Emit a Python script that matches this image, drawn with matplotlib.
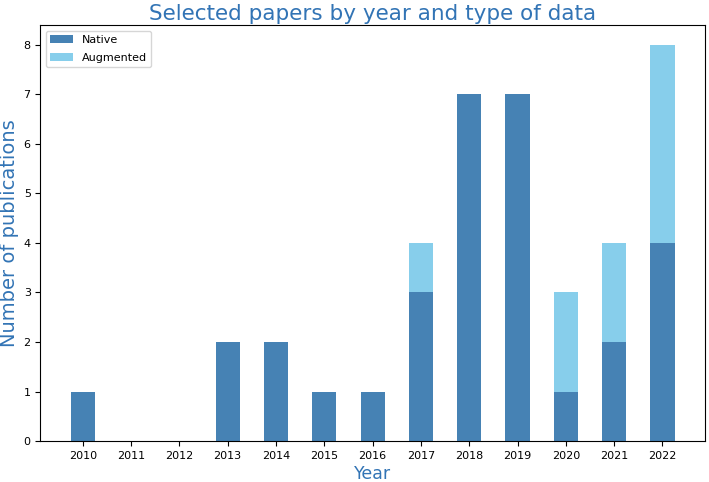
import matplotlib.pyplot as plt
import numpy as np

years = ["2010", "2011", "2012", "2013", "2014", "2015", "2016",
         "2017", "2018", "2019", "2020", "2021", "2022"]
native = [1, 0, 0, 2, 2, 1, 1, 3, 7, 7, 1, 2, 4]
augmented = [0, 0, 0, 0, 0, 0, 0, 1, 0, 0, 2, 2, 4]

title_color = "#3274b5"

fig = plt.figure(figsize=(7.09, 4.82), dpi=100)
ax = fig.add_axes([0.057, 0.085, 0.937, 0.863])

x = np.arange(len(years))
ax.bar(x, native, width=0.5, color="steelblue", label="Native")
ax.bar(x, augmented, width=0.5, bottom=native, color="skyblue", label="Augmented")

ax.set_xticks(x)
ax.set_xticklabels(years)
ax.tick_params(labelsize=8)

ax.set_title("Selected papers by year and type of data", fontsize=15.5,
             color=title_color, pad=4)
ax.set_xlabel("Year", fontsize=12.5, color=title_color, labelpad=3)
ax.set_ylabel("Number of publications", fontsize=14, color=title_color, labelpad=3)
ax.legend(loc="upper left", fontsize=8, labelspacing=0.7)

plt.savefig("out.png", dpi=100)
